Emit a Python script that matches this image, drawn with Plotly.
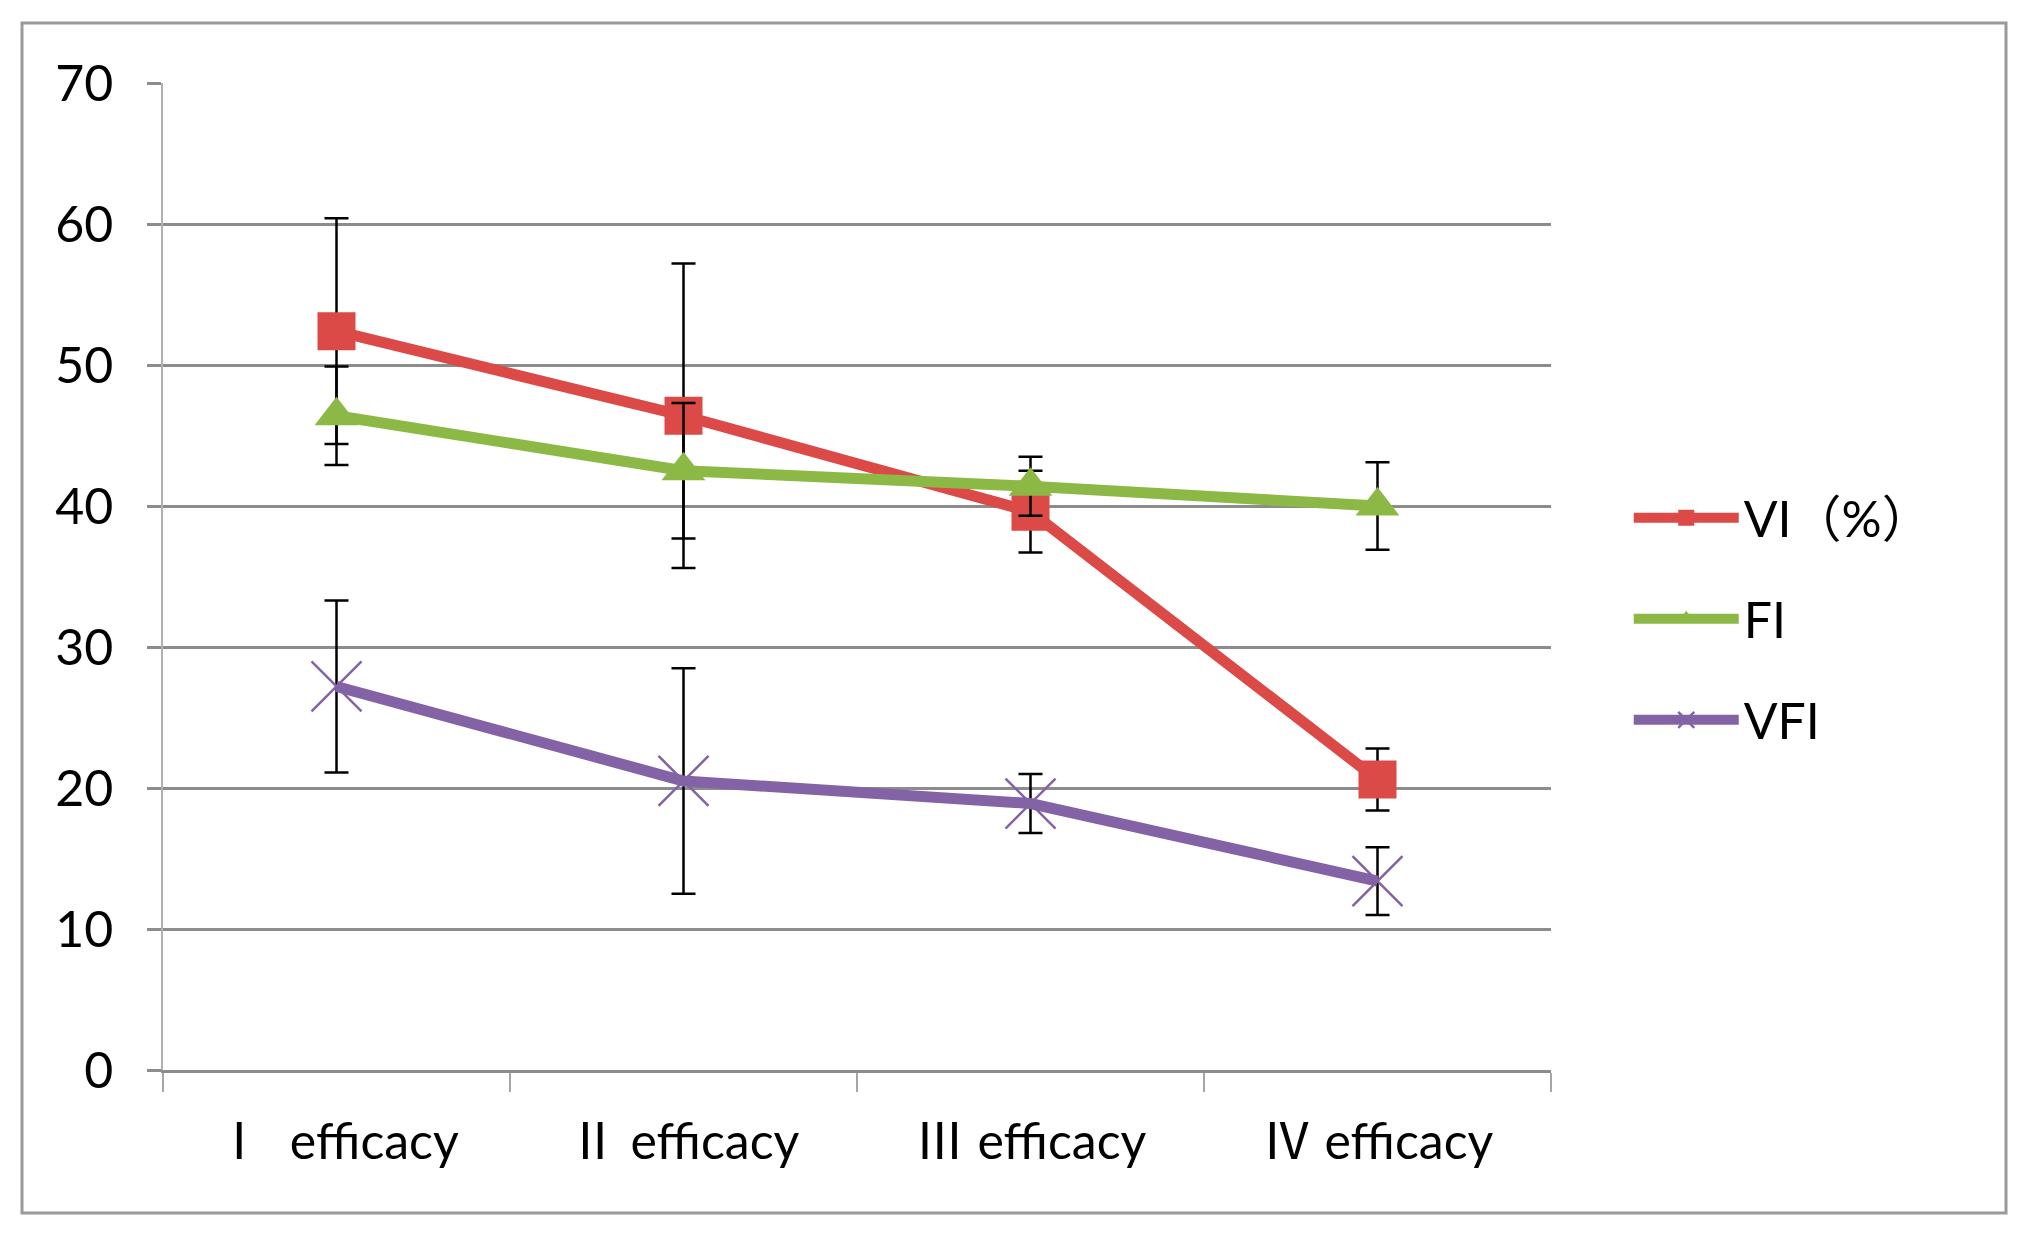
import plotly.graph_objects as go

categories = ["Ⅰ  efficacy", "Ⅱ efficacy", "Ⅲ efficacy", "Ⅳ efficacy"]
series_names = ["VI（%）", "FI", "VFI"]
vi_values = [52.4, 46.4, 39.6, 20.6]
vi_errors = [8.0, 10.8, 2.9, 2.2]
fi_values = [46.4, 42.5, 41.4, 40.0]
fi_errors = [3.5, 4.8, 2.1, 3.1]
vfi_values = [27.2, 20.5, 18.9, 13.4]
vfi_errors = [6.1, 8.0, 2.1, 2.4]
y_ticks = [0, 10, 20, 30, 40, 50, 60, 70]

colors = ["#DB4A46", "#8CB946", "#8462A6"]
symbols = ["square", "triangle-up", "x-thin"]
sizes = [38, 38, 50]

FONT = "Lato, 'Noto Sans', 'Noto Sans CJK SC', sans-serif"
NUM_FONT = "'DejaVu Serif', 'Noto Sans CJK SC', serif"

# tick text: roman numeral in serif face, rest in the main font
tick_text = []
for c in categories:
    numeral, rest = c[0], c[1:]
    tick_text.append(f"<span style='font-family:{NUM_FONT}'>{numeral}</span>{rest}")

W, H = 2027, 1241
L, R, T, B = 155, 484, 75, 179

fig = go.Figure()
for i, (name, vals, errs) in enumerate(zip(series_names,
                                           [vi_values, fi_values, vfi_values],
                                           [vi_errors, fi_errors, vfi_errors])):
    marker = dict(symbol=symbols[i], size=sizes[i], color=colors[i])
    if symbols[i] == "x-thin":
        marker["line"] = dict(color=colors[i], width=2.5)
    else:
        marker["line"] = dict(width=0)
    fig.add_trace(go.Scatter(
        x=categories, y=vals, name=name, mode="lines+markers",
        line=dict(color=colors[i], width=11),
        marker=marker,
        legendgroup=name,
        error_y=dict(type="data", array=errs, visible=True,
                     color="#000000", thickness=2.5, width=12),
    ))

pw = W - L - R
ph = H - T - B
bx0 = (14 - L) / pw
bx1 = (1998 - L) / pw
by1 = (H - B - 15) / ph
by0 = (H - B - 1205) / ph

fig.add_shape(type="rect", xref="paper", yref="paper",
              x0=bx0, x1=bx1, y0=by0, y1=by1,
              line=dict(color="#9A9A9A", width=3), fillcolor="rgba(0,0,0,0)",
              layer="below")

fig.update_layout(
    width=W, height=H,
    margin=dict(l=L, r=R, t=T, b=B, autoexpand=False),
    paper_bgcolor="white", plot_bgcolor="white",
    font=dict(family=FONT, size=50, color="#000000"),
    showlegend=True,
    legend=dict(x=1.056, y=0.599, xanchor="left", yanchor="top",
                font=dict(family=FONT, size=50, color="#000000"),
                tracegroupgap=33, itemwidth=105,
                bgcolor="rgba(0,0,0,0)"),
    xaxis=dict(type="category", range=[-0.5, 3.5],
               tickvals=categories, ticktext=tick_text,
               showgrid=False, zeroline=False,
               showline=True, linecolor="#8C8C8C", linewidth=3,
               ticks="outside", tickson="boundaries", ticklen=19,
               tickwidth=1.5, tickcolor="#A6A6A6",
               ticklabelstandoff=26,
               tickfont=dict(family=FONT, size=50)),
    yaxis=dict(range=[0, 70], tickvals=y_ticks,
               showgrid=True, gridcolor="#8C8C8C", gridwidth=3,
               zeroline=False,
               showline=True, linecolor="#B0B0B0", linewidth=1.5,
               ticks="outside", ticklen=14, tickwidth=3, tickcolor="#8C8C8C",
               ticklabelstandoff=24,
               tickfont=dict(family=FONT, size=50)),
)

fig.write_html("out.html")
